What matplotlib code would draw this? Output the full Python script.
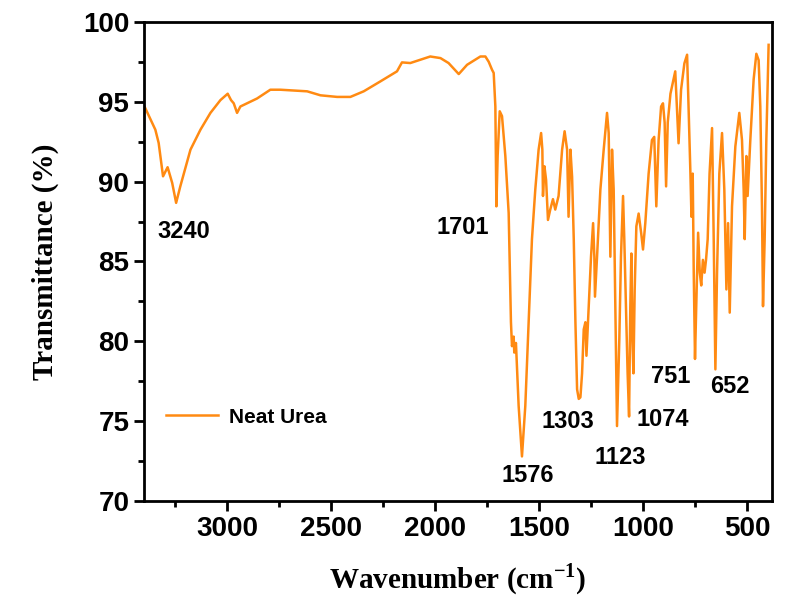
import numpy as np
import matplotlib
matplotlib.use('Agg')
import matplotlib.pyplot as plt
from matplotlib.ticker import MultipleLocator

# FTIR spectrum of neat urea
wavenumber = [3401, 3345, 3329, 3308, 3286, 3264, 3245, 3225, 3176, 3128,
              3080, 3032, 2997, 2981, 2968, 2952, 2936, 2904, 2856, 2792,
              2744, 2615, 2551, 2471, 2407, 2343, 2263, 2183, 2159, 2119,
              2023, 1974, 1935, 1886, 1846, 1782, 1758, 1742, 1726, 1718,
              1710, 1705, 1699, 1689, 1678, 1662, 1646, 1635, 1630, 1622,
              1619, 1611, 1598, 1582, 1566, 1550, 1534, 1518, 1502, 1490,
              1484, 1481, 1474, 1466, 1457, 1446, 1433, 1422, 1406, 1389,
              1377, 1365, 1358, 1349, 1341, 1333, 1325, 1317, 1309, 1301,
              1293, 1285, 1277, 1272, 1261, 1250, 1240, 1234, 1231, 1221,
              1205, 1189, 1173, 1165, 1157, 1149, 1141, 1133, 1125, 1114,
              1106, 1096, 1090, 1082, 1074, 1067, 1061, 1056, 1051, 1046,
              1040, 1032, 1021, 1009, 1000, 989, 973, 957, 946, 936,
              925, 913, 904, 896, 889, 881, 868, 845, 829, 817,
              801, 788, 781, 772, 767, 761, 756, 750, 744, 735,
              727, 720, 712, 704, 697, 689, 680, 668, 660, 652,
              644, 633, 620, 609, 599, 591, 583, 572, 556, 537,
              524, 516, 511, 503, 497, 484, 468, 455, 444, 436,
              428, 423, 415, 407, 396]
transmittance = [94.81, 93.25, 92.42, 90.33, 90.9, 89.92, 88.67, 89.7, 92.0, 93.25,
                 94.3, 95.1, 95.5, 95.1, 94.9, 94.3, 94.7, 94.9, 95.2, 95.75,
                 95.75, 95.65, 95.4, 95.3, 95.3, 95.65, 96.27, 96.9, 97.46, 97.42,
                 97.83, 97.73, 97.42, 96.73, 97.31, 97.83, 97.83, 97.5, 97.0, 96.8,
                 94.7, 88.45, 91.6, 94.4, 94.1, 91.6, 88.04, 81.2, 79.7, 80.3,
                 79.3, 79.9, 75.96, 72.8, 75.96, 81.2, 86.4, 89.5, 92.0, 93.04,
                 92.0, 89.1, 90.96, 90.1, 87.6, 88.25, 88.9, 88.25, 89.1, 92.0,
                 93.15, 92.0, 87.8, 92.0, 90.3, 86.4, 81.2, 77.0, 76.4, 76.5,
                 78.0, 80.75, 81.2, 79.1, 82.2, 85.3, 87.4, 85.3, 82.8, 85.3,
                 89.5, 92.0, 94.3, 93.04, 85.3, 92.0, 89.5, 82.2, 74.7, 80.1,
                 85.3, 89.1, 86.4, 82.2, 78.0, 75.3, 82.2, 85.5, 80.1, 78.0,
                 83.25, 87.2, 88.0, 86.8, 85.75, 87.4, 90.5, 92.6, 92.8, 88.45,
                 92.6, 94.7, 94.9, 93.7, 89.7, 93.7, 95.5, 96.9, 92.4, 95.75,
                 97.4, 97.94, 94.7, 90.5, 87.8, 90.5, 84.3, 78.9, 82.2, 86.8,
                 84.3, 83.5, 85.1, 84.3, 85.1, 86.4, 90.5, 93.35, 86.4, 78.25,
                 84.3, 90.5, 93.04, 89.5, 83.25, 87.4, 81.8, 88.45, 92.2, 94.3,
                 92.6, 89.5, 86.4, 91.6, 89.1, 92.6, 96.4, 98.0, 97.6, 94.7,
                 88.45, 82.2, 86.4, 92.6, 98.56]

peak_labels = ['3240', '1701', '1576', '1303', '1123', '1074', '751', '652']
label_x = [3210, 1869, 1556, 1359, 1108, 906, 867, 582]
label_y = [86.9, 87.1, 71.6, 75.0, 72.75, 75.1, 77.8, 77.2]

sans = 'Liberation Sans'
serif = 'Liberation Serif'
plt.rcParams['mathtext.fontset'] = 'custom'
plt.rcParams['mathtext.rm'] = 'Liberation Serif:bold'
plt.rcParams['mathtext.bf'] = 'Liberation Serif:bold'

fig = plt.figure(figsize=(7.95, 6.06), dpi=100)
ax = fig.add_axes([0.181, 0.173, 0.79, 0.791])

ax.plot(wavenumber, transmittance, color='#ff8a12', lw=1.8, label='Neat Urea')

for lab, x, y in zip(peak_labels, label_x, label_y):
    ax.text(x, y, lab, ha='center', va='center', fontsize=17,
            fontweight='bold', family=sans)

ax.set_xlim(3400, 380)
ax.set_ylim(70, 100)
ax.xaxis.set_major_locator(MultipleLocator(500))
ax.xaxis.set_minor_locator(MultipleLocator(250))
ax.yaxis.set_major_locator(MultipleLocator(5))
ax.yaxis.set_minor_locator(MultipleLocator(2.5))

ax.tick_params(which='major', direction='out', length=7, width=2, labelsize=20)
ax.tick_params(which='minor', direction='out', length=4, width=2)
for lab in ax.get_xticklabels() + ax.get_yticklabels():
    lab.set_family(sans)
    lab.set_fontweight('bold')
for s in ax.spines.values():
    s.set_linewidth(2)

ax.set_xlabel(r'Wavenumber (cm$^{\mathbf{-1}}$)', fontsize=21, fontweight='bold',
              family=serif, labelpad=14)
ax.set_ylabel('Transmittance (%)', fontsize=21, fontweight='bold',
              family=serif, labelpad=17)

leg = ax.legend(loc='center left', bbox_to_anchor=(0.035, 0.175), frameon=False,
                borderpad=0, borderaxespad=0, handlelength=2.5, handletextpad=0.55,
                prop={'family': sans, 'weight': 'bold', 'size': 15})

fig.savefig('out.png', dpi=100)
